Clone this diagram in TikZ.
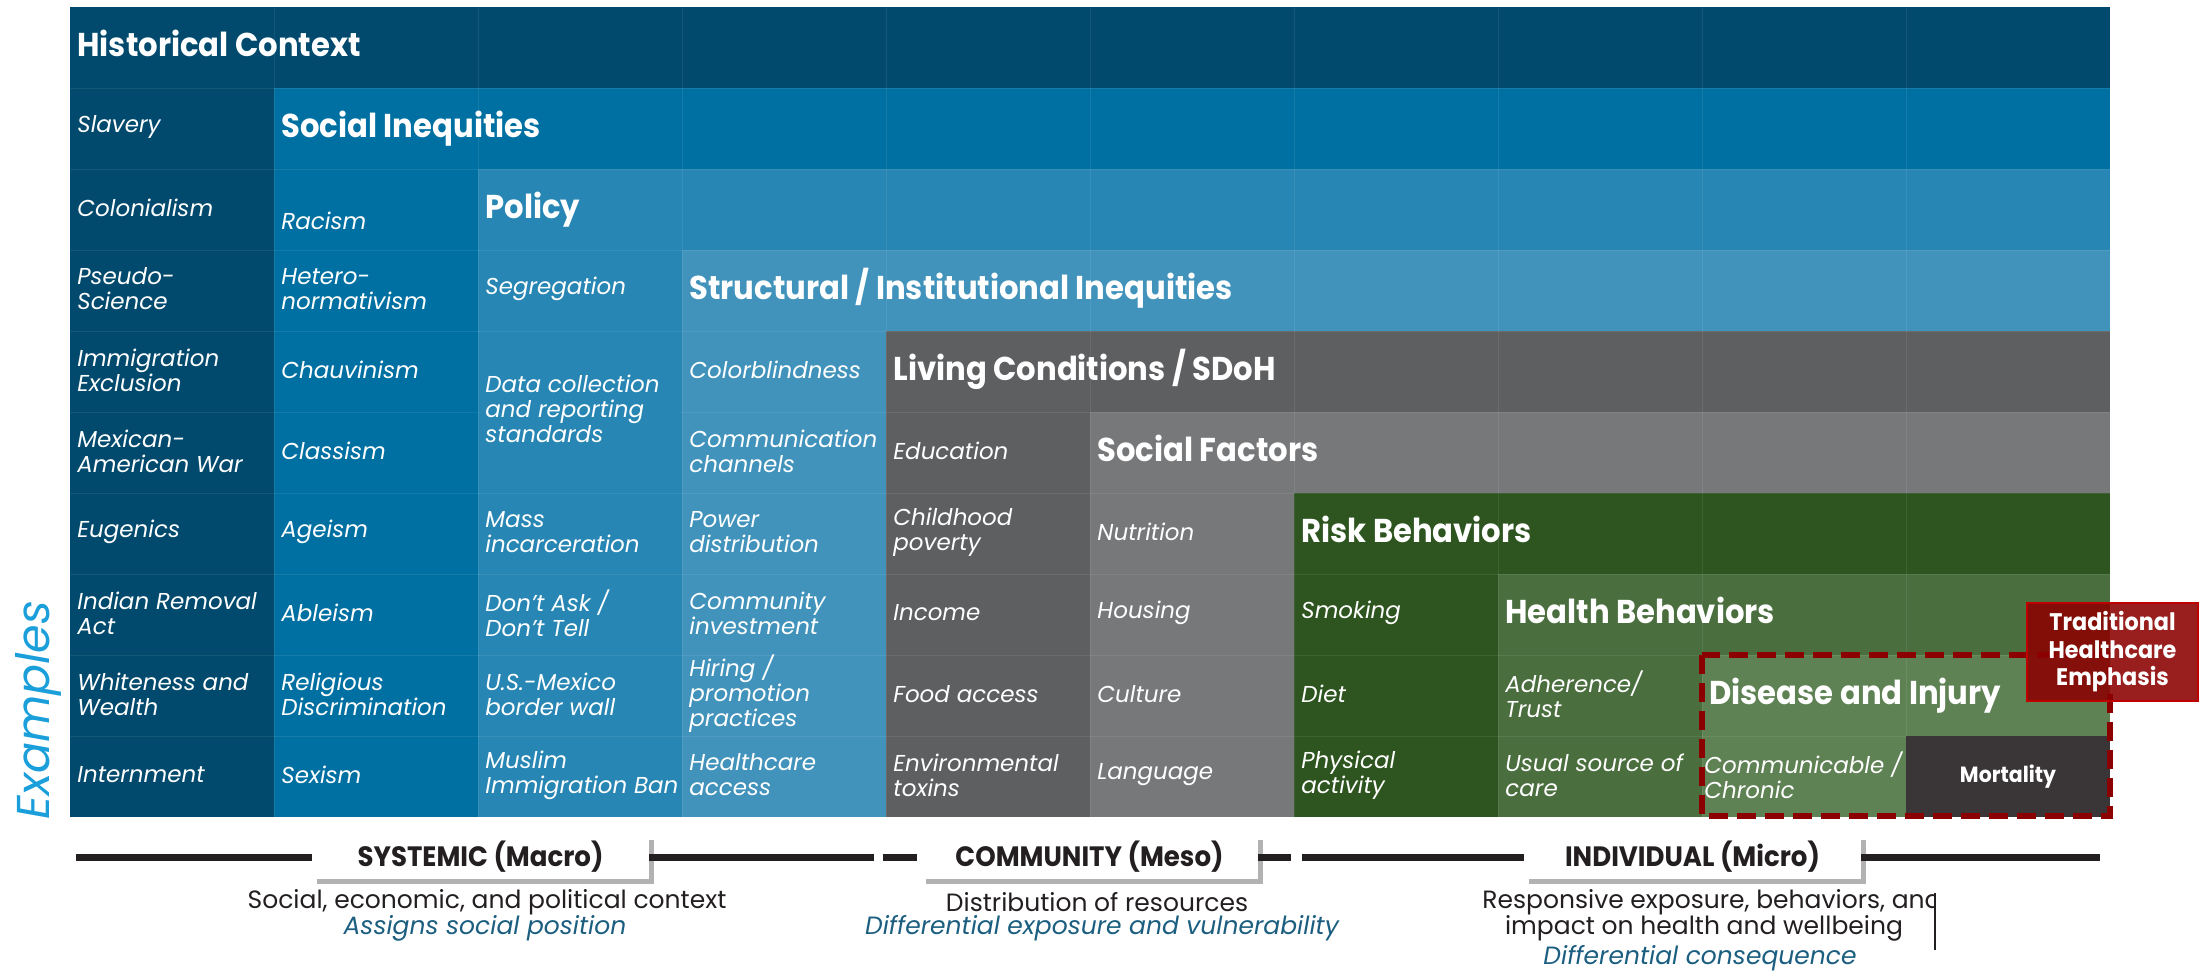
\documentclass[tikz,border=0pt]{standalone}
\usepackage{fontspec}
\setmainfont{Poppins}
\newfontfamily\headfont[FakeStretch=0.93]{Poppins}
\usetikzlibrary{shadows}

% colours of the nested levels
\definecolor{histcol}{HTML}{014A6D}
\definecolor{ineqcol}{HTML}{0070A2}
\definecolor{policol}{HTML}{2786B3}
\definecolor{strucol}{HTML}{4193BC}
\definecolor{livecol}{HTML}{5E5F61}
\definecolor{soccol}{HTML}{77787A}
\definecolor{riskcol}{HTML}{2E5520}
\definecolor{healcol}{HTML}{4A6E3E}
\definecolor{discol}{HTML}{5F8254}
\definecolor{mortcol}{HTML}{3A3537}
\definecolor{inkcol}{HTML}{231F20}
\definecolor{exblue}{HTML}{1A9FDB}
\definecolor{capblue}{HTML}{1B5E80}
\definecolor{emphred}{HTML}{8B0000}

\begin{document}
\begin{tikzpicture}[x=0.5pt, y=-0.5pt,
    title/.style={anchor=base west, inner sep=0pt, text=white,
      font=\headfont\bfseries\fontsize{16.5}{18}\selectfont},
    item/.style={anchor=west, inner sep=0pt, align=left, text=white,
      font=\itshape\fontsize{11.5}{12.5}\selectfont},
    cellline/.style={white, opacity=0.08, line width=0.5pt},
    scalelabel/.style={fill=white, minimum width=168.5pt, minimum height=22pt,
      inner sep=0pt, text=inkcol, font=\headfont\bfseries\fontsize{14}{16}\selectfont,
      drop shadow={shadow xshift=2.5pt, shadow yshift=-2.5pt, fill=black, opacity=0.3}},
    axisline/.style={inkcol, line width=3.5pt},
    desc/.style={inner sep=0pt, text=inkcol, font=\fontsize{12.5}{13}\selectfont},
    role/.style={inner sep=0pt, text=capblue, font=\itshape\fontsize{12.5}{13}\selectfont},
  ]
  \useasboundingbox (0,0) rectangle (2211,970);

  % Staircase of nested levels
  \foreach \col [count=\k from 0] in {histcol,ineqcol,policol,strucol,livecol,soccol,riskcol,healcol,discol}
    \fill[\col] ({70+204*\k},{7+81*\k}) rectangle (2110,817);

  % faint cell borders
  \foreach \k in {1,...,9}
    \draw[cellline] ({70+204*\k},7) -- ({70+204*\k},817);
  \foreach \r in {1,...,9}
    \draw[cellline] (70,{7+81*\r}) -- (2110,{7+81*\r});
  \fill[policol] (479,332) rectangle (681,492);

  % Level titles
  \foreach \txt [count=\k from 0] in {Historical Context, Social Inequities, Policy,
      Structural / Institutional Inequities, Living Conditions / SDoH, Social Factors,
      Risk Behaviors, Health Behaviors, Disease and Injury}
    \node[title] (lvl\k) at ({77+204*\k},{56+81*\k}) {\txt};

  % Examples, column by column
  \foreach \txt [count=\r] in {Slavery, Colonialism, {Pseudo-\\Science}, {Immigration\\Exclusion},
      {Mexican-\\American War}, Eugenics, {Indian Removal\\Act}, {Whiteness and\\Wealth}, Internment}
    \node[item] (hist-\r) at (77,{46+81*\r}) {\txt};

  \node[item] (ineq-2) at (281,221) {Racism};
  \foreach \txt [count=\r from 3] in {{Hetero-\\normativism}, Chauvinism, Classism, Ageism, Ableism,
      {Religious\\Discrimination}, Sexism}
    \node[item] (ineq-\r) at (281,{46+81*\r}) {\txt};

  \node[item] (poli-3) at (485,289) {Segregation};
  \node[item] (poli-4) at (485,409) {Data collection\\and reporting\\standards};
  \foreach \txt [count=\r from 6] in {{Mass\\incarceration}, {Don't Ask /\\Don't Tell},
      {U.S.-Mexico\\border wall}, {Muslim\\Immigration Ban}}
    \node[item] (poli-\r) at (485,{46+81*\r}) {\txt};

  \foreach \txt [count=\r from 4] in {Colorblindness, {Communication\\channels}, {Power\\distribution},
      {Community\\investment}, {Hiring /\\promotion\\practices}, {Healthcare\\access}}
    \node[item] (stru-\r) at (689,{46+81*\r}) {\txt};

  \foreach \txt [count=\r from 5] in {Education, {Childhood\\poverty}, Income, Food access,
      {Environmental\\toxins}}
    \node[item] (live-\r) at (893,{46+81*\r}) {\txt};

  \foreach \txt [count=\r from 6] in {Nutrition, Housing, Culture, Language}
    \node[item] (soc-\r) at (1097,{46+81*\r}) {\txt};

  \foreach \txt [count=\r from 7] in {Smoking, Diet, {Physical\\activity}}
    \node[item] (risk-\r) at (1301,{46+81*\r}) {\txt};

  \foreach \txt [count=\r from 8] in {{Adherence/\\Trust}, {Usual source of\\care}}
    \node[item] (heal-\r) at (1505,{46+81*\r}) {\txt};

  \node[item] (dis-9) at (1704,775) {Communicable /\\Chronic};
  \node[fill=mortcol, minimum width=102pt, minimum height=40.5pt, inner sep=0pt, text=white,
    font=\headfont\bfseries\fontsize{11}{12}\selectfont] (mort) at (2008,776.5) {Mortality};

  % Healthcare emphasis
  \draw[emphred, line width=3pt, dash pattern=on 9.5pt off 4.5pt] (1702,655) rectangle (2110,816);
  \node[draw=red!75!black, line width=0.8pt, fill=emphred, fill opacity=0.88, text opacity=1,
    minimum width=85.5pt, minimum height=49pt, inner sep=0pt, align=center, text=white,
    font=\headfont\bfseries\fontsize{12}{13.75}\selectfont] (trad) at (2112.5,652)
    {Traditional\\Healthcare\\Emphasis};

  \node[rotate=90, text=exblue, inner sep=0pt, font=\itshape\fontsize{23}{25}\selectfont]
    (examples) at (38,710) {Examples};

  % Scale of the levels
  \node[scalelabel] (sys) at (480.5,857) {SYSTEMIC (Macro)};
  \node[scalelabel] (com) at (1089.5,857) {COMMUNITY (Meso)};
  \node[scalelabel] (ind) at (1692.5,857) {INDIVIDUAL (Micro)};

  \coordinate (lineL) at (76,857);
  \coordinate (gapA) at (874,857);
  \coordinate (dashA) at (883,857);
  \coordinate (dashB) at (917,857);
  \coordinate (dashC) at (1291,857);
  \coordinate (gapB) at (1302,857);
  \coordinate (lineR) at (2100,857);
  \draw[axisline] (lineL) -- (sys.west);
  \draw[axisline] (sys.east) -- (gapA);
  \draw[axisline] (dashA) -- (dashB);
  \draw[axisline] (com.east) -- (dashC);
  \draw[axisline] (gapB) -- (ind.west);
  \draw[axisline] (ind.east) -- (lineR);

  \node[desc] (sysdesc) at (487,902) {Social, economic, and political context};
  \node[role] (sysrole) at (485,928) {Assigns social position};
  \node[desc] (comdesc) at (1097,902) {Distribution of resources};
  \node[role] (comrole) at (1102,928) {Differential exposure and vulnerability};
  \begin{scope}
    \clip (1400,885) rectangle (1935,920);
    \node[desc] (inddesc) at (1712,902) {Responsive exposure, behaviors, and};
  \end{scope}
  \node[desc] (indimp) at (1704,928) {impact on health and wellbeing};
  \node[role] (indrole) at (1700,958) {Differential consequence};
  \draw[inkcol, line width=0.7pt] (1935,893) -- (1935,950);
\end{tikzpicture}
\end{document}
